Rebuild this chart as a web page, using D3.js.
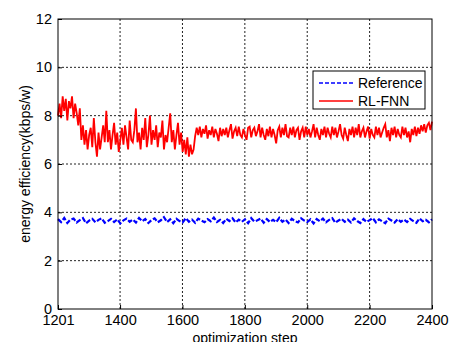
<!DOCTYPE html>
<html>
<head>
<meta charset="utf-8">
<script src="https://cdn.jsdelivr.net/npm/d3@7"></script>
<style>
  body { margin: 0; background: #fff; }
  svg { display: block; font-family: Arial, "Liberation Sans", sans-serif; }
  .grid line { stroke: #222; stroke-width: 1; stroke-dasharray: 2,2; }
</style>
</head>
<body>
<div id="chart"></div>
<script>
// energy efficiency vs optimization step
const stepStart = 1201;
const stepEnd = 2400;

const xTicks = [1201, 1400, 1600, 1800, 2000, 2200, 2400];
const yTicks = [0, 2, 4, 6, 8, 10, 12];

// RL-FNN, evenly spaced samples from step 1201 to 2400
const rlfnn = [
  8.0, 8.5, 7.9, 8.8, 8.2, 8.7, 7.8, 8.6, 8.3, 8.8, 7.9, 8.5, 8.1,
  7.6, 8.3, 7.0, 7.6, 6.8, 7.4, 6.6, 7.2,
  7.5, 6.7, 7.9, 6.9, 6.3, 7.3, 6.6, 7.1, 7.6, 6.9,
  8.2,
  6.9, 7.4, 6.6, 7.2, 7.7, 6.8, 7.3, 6.5, 7.0, 7.5,
  6.8, 7.6, 7.1, 6.6, 7.8, 7.0, 6.9, 7.4, 8.3, 6.9,
  7.3, 6.6, 7.5, 7.0, 7.9, 6.7, 7.2, 8.0, 6.8, 7.4,
  7.0, 7.6, 6.7, 7.3, 7.1, 7.8, 6.6, 7.2, 6.9, 7.5,
  8.1, 6.9, 7.4, 6.6, 7.2, 7.7, 6.8, 7.3,
  6.5, 7.0, 6.4, 7.1, 6.3, 6.8, 6.4, 6.6,
  7.15, 7.5, 7.2, 7.55, 7.1, 7.45, 7.25, 7.6, 7.05, 7.4,
  7.2, 7.55, 7.1, 7.45, 7.25, 6.95, 7.5, 7.15, 7.45, 7.2,
  7.5, 7.1, 7.4, 7.65, 7.05, 7.35, 7.5, 7.15, 7.55, 7.2,
  7.1, 7.45, 7.2, 7.0, 7.5, 7.55, 7.1, 7.4, 7.5, 7.15,
  7.35, 7.65, 7.1, 7.5, 7.2, 7.0, 7.45, 7.15, 7.55, 7.1,
  7.45, 7.2, 6.85, 7.4, 7.55, 7.1, 7.5, 7.2, 7.65, 7.15,
  7.1, 7.5, 7.2, 7.55, 7.1, 7.4, 7.5, 7.0, 7.35, 7.5,
  7.1, 7.55, 7.2, 7.45, 7.1, 7.35, 7.65, 7.1, 7.5, 7.2,
  7.0, 7.45, 7.2, 7.55, 7.1, 7.5, 7.25, 7.1, 7.55, 7.2,
  7.5, 7.1, 7.35, 7.65, 7.2, 7.05, 7.5, 7.2, 6.95, 7.45,
  7.2, 7.55, 7.1, 7.5, 7.2, 7.65, 7.1, 7.35, 7.5, 7.1,
  7.35, 7.55, 7.05, 7.45, 7.2, 7.1, 7.55, 7.2, 7.5, 7.1,
  7.3, 7.5, 7.65, 7.1, 7.4, 6.95, 7.5, 7.2, 7.55, 7.1,
  7.45, 7.2, 7.1, 7.55, 7.2, 7.5, 7.1, 7.35, 6.9, 7.45,
  7.2, 7.55, 7.15, 7.5, 7.25, 7.6, 7.35, 7.65, 7.3, 7.6, 7.7, 7.4, 7.75
];

// Reference, evenly spaced samples from step 1201 to 2400
const reference = [
  3.72, 3.60, 3.77, 3.56, 3.70, 3.74, 3.58, 3.68, 3.76, 3.55,
  3.66, 3.73, 3.59, 3.69, 3.75, 3.57, 3.64, 3.73, 3.60, 3.71,
  3.54, 3.67, 3.74, 3.61, 3.70, 3.58, 3.77, 3.63, 3.72, 3.56,
  3.68, 3.75, 3.59, 3.67, 3.80, 3.60, 3.71, 3.55, 3.73, 3.64,
  3.58, 3.76, 3.61, 3.70, 3.57, 3.74, 3.66, 3.59, 3.72, 3.63,
  3.78, 3.60, 3.69, 3.56, 3.73, 3.64, 3.75, 3.58, 3.70, 3.61,
  3.71, 3.55, 3.76, 3.62, 3.67, 3.74, 3.57, 3.72, 3.60, 3.69,
  3.59, 3.77, 3.61, 3.70, 3.56, 3.73, 3.64, 3.58, 3.75, 3.66,
  3.60, 3.71, 3.54, 3.72, 3.63, 3.74, 3.59, 3.69, 3.76, 3.57,
  3.66, 3.73, 3.61, 3.70, 3.58, 3.75, 3.64, 3.56, 3.72, 3.60,
  3.68, 3.76, 3.59, 3.71, 3.63, 3.55, 3.74, 3.66, 3.58, 3.72,
  3.61, 3.70, 3.60, 3.73, 3.64, 3.57, 3.75, 3.63, 3.69, 3.59, 3.71
];

const legendItems = [
  {name: "Reference", color: "#0000ff", dash: "4,2"},
  {name: "RL-FNN", color: "#ff0000", dash: null}
];

const W = 466, H = 342;
const margin = {top: 19, right: 34, bottom: 33, left: 58};
const width = W - margin.left - margin.right;
const height = H - margin.top - margin.bottom;

const svg = d3.select("#chart").append("svg")
    .attr("width", W)
    .attr("height", H);

const g = svg.append("g")
    .attr("transform", `translate(${margin.left},${margin.top})`);

const x = d3.scaleLinear().domain([stepStart, stepEnd]).range([0, width]);
const y = d3.scaleLinear().domain([0, 12]).range([height, 0]);

// grid
g.append("g").attr("class", "grid")
    .selectAll("line").data(xTicks.slice(1, -1)).join("line")
    .attr("x1", d => x(d)).attr("x2", d => x(d))
    .attr("y1", 0).attr("y2", height);
g.append("g").attr("class", "grid")
    .selectAll("line").data(yTicks.slice(1, -1)).join("line")
    .attr("x1", 0).attr("x2", width)
    .attr("y1", d => y(d)).attr("y2", d => y(d));

// series
const toPoints = vals => vals.map((v, i) => ({
    step: stepStart + i * (stepEnd - stepStart) / (vals.length - 1),
    v: v
}));
const line = d3.line().x(d => x(d.step)).y(d => y(d.v));

g.append("path").datum(toPoints(reference))
    .attr("d", line)
    .attr("fill", "none")
    .attr("stroke", "#0000ff")
    .attr("stroke-width", 2.2)
    .attr("stroke-dasharray", "5,2");

g.append("path").datum(toPoints(rlfnn))
    .attr("d", line)
    .attr("fill", "none")
    .attr("stroke", "#ff0000")
    .attr("stroke-width", 1.8);

// axes
const xAxis = g.append("g")
    .attr("transform", `translate(0,${height})`)
    .call(d3.axisBottom(x).tickValues(xTicks).tickFormat(d3.format("d")).tickSizeInner(-4).tickSizeOuter(0).tickPadding(6));
const yAxis = g.append("g")
    .call(d3.axisLeft(y).tickValues(yTicks).tickSizeInner(-4).tickSizeOuter(0).tickPadding(6));
[xAxis, yAxis].forEach(a => {
    a.select(".domain").remove();
    a.selectAll("line").attr("stroke", "#000");
    a.selectAll("text").attr("fill", "#000").style("font-size", "14.5px");
});

// frame
g.append("rect")
    .attr("width", width).attr("height", height)
    .attr("fill", "none").attr("stroke", "#000").attr("stroke-width", 1);

// axis labels
svg.append("text")
    .attr("x", margin.left + width / 2).attr("y", H + 1)
    .attr("text-anchor", "middle")
    .style("font-size", "14px")
    .text("optimization step");
svg.append("text")
    .attr("transform", `translate(30,${margin.top + height / 2}) rotate(-90)`)
    .attr("text-anchor", "middle")
    .style("font-size", "14px")
    .text("energy efficiency(kbps/w)");

// legend
const lg = svg.append("g").attr("transform", "translate(313,71)");
lg.append("rect").attr("width", 112).attr("height", 38)
    .attr("fill", "#fff").attr("stroke", "#000").attr("stroke-width", 1);
const li = lg.selectAll("g.item").data(legendItems).join("g")
    .attr("class", "item")
    .attr("transform", (d, i) => `translate(0,${12 + i * 18})`);
li.append("line")
    .attr("x1", 6).attr("x2", 40)
    .attr("stroke", d => d.color)
    .attr("stroke-width", 1.5)
    .attr("stroke-dasharray", d => d.dash);
li.append("text")
    .attr("x", 45).attr("dy", "0.35em")
    .style("font-size", "14px")
    .text(d => d.name);
</script>
</body>
</html>
